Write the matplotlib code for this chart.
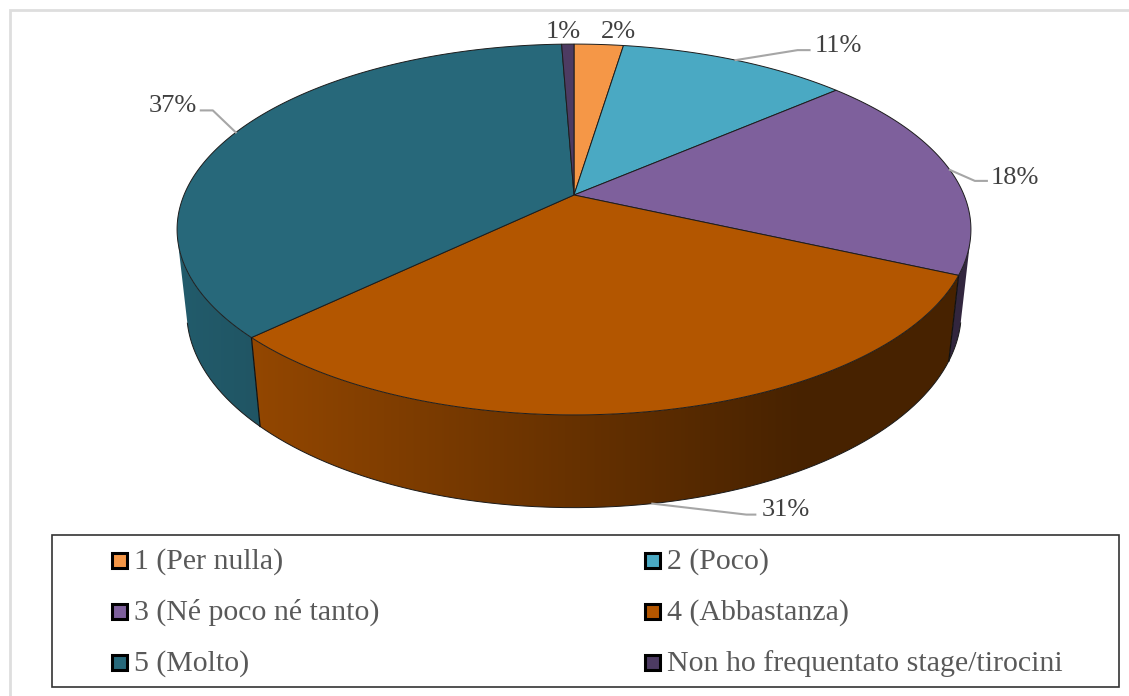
import numpy as np
import matplotlib
matplotlib.use("Agg")
import matplotlib.pyplot as plt
from matplotlib.patches import Polygon, Rectangle, PathPatch
from matplotlib.path import Path
from matplotlib.colors import to_rgb

categories = ["1 (Per nulla)", "2 (Poco)", "3 (Né poco né tanto)",
              "4 (Abbastanza)", "5 (Molto)", "Non ho frequentato stage/tirocini"]
shares = [2.4, 11.2, 18.2, 31.0, 36.6, 0.6]
colors = ["#F59747", "#4AA9C3", "#7E609C", "#B35600", "#27687A", "#4D3B62"]

# Perspective model of the disc, in pixel units of the canvas
CX, CY = 574.0, 195.0
SCALE_X, SCALE_Y = 390.0, 179.0
PERSP = 0.186
DEPTH_Y, DEPTH_W = 83.0, 0.024
TEXT_FONT = ["Liberation Serif", "DejaVu Serif"]


def top_rim(theta):
    u, v = np.sin(theta), np.cos(theta)
    w = 1 + PERSP * v
    return CX + SCALE_X * u / w, CY - SCALE_Y * v / w


def bottom_rim(theta):
    u, v = np.sin(theta), np.cos(theta)
    w = 1 + PERSP * v + DEPTH_W
    return CX + SCALE_X * u / w, CY - (SCALE_Y * v - DEPTH_Y) / w


def wall_shade(x):
    return np.interp(x, [177, 800], [0.88, 0.40])


def quad_area(q):
    x, y = q[:, 0], q[:, 1]
    return 0.5 * np.sum(x * np.roll(y, -1) - np.roll(x, -1) * y)


fig = plt.figure(figsize=(11.29, 6.96), dpi=100, facecolor="white")
ax = fig.add_axes([0, 0, 1, 1])
ax.set_xlim(0, 1129)
ax.set_ylim(696, 0)
ax.axis("off")
ax.set_autoscale_on(False)

# Outer chart frame
ax.plot([10, 10, 1129], [696, 10, 10], color="#dedede", lw=2, solid_joinstyle="miter")

edges = np.cumsum([0] + shares) / 100 * 2 * np.pi
grad_x = np.arange(170, 980)

# Side wall: a horizontal gradient clipped to the camera-facing part of each slice
for start, end, col in zip(edges[:-1], edges[1:], colors):
    t = np.linspace(start, end, max(int((end - start) * 160), 2) + 1)
    tx, ty = top_rim(t)
    bx, by = bottom_rim(t)
    verts, rim_x, rim_y = [], [], []
    for i in range(len(t) - 1):
        q = np.array([(tx[i], ty[i]), (tx[i + 1], ty[i + 1]), (bx[i + 1], by[i + 1]), (bx[i], by[i])])
        if quad_area(q) < 0:
            verts.append(Path(np.vstack([q, q[0]]), closed=True))
            rim_x += [bx[i], bx[i + 1]]
            rim_y += [by[i], by[i + 1]]
    if not verts:
        continue
    clip = PathPatch(Path.make_compound_path(*verts), transform=ax.transData)
    row = np.outer(wall_shade(grad_x), np.array(to_rgb(col)))[None, :, :]
    ax.imshow(row, extent=[grad_x[0], grad_x[-1], 520, 100], aspect="auto",
              interpolation="bilinear", clip_path=clip, zorder=2)
    ax.plot(rim_x, rim_y, color="#1a1a1a", lw=0.7, zorder=3)

# Seams between wall segments
for e in edges[1:-1]:
    if np.cos(e) < 0:
        tx, ty = top_rim(e)
        bx, by = bottom_rim(e)
        ax.plot([tx, bx], [ty, by], color="#111111", lw=0.9, zorder=3)

# Top face of the disc
for start, end, col in zip(edges[:-1], edges[1:], colors):
    t = np.linspace(start, end, max(int((end - start) * 160), 4))
    x, y = top_rim(t)
    pts = np.column_stack([np.r_[CX, x], np.r_[CY, y]])
    ax.add_patch(Polygon(pts, closed=True, facecolor=col, edgecolor="#1c1c1c", lw=0.7, zorder=4))

# Percentage labels; the elbow offsets and text positions follow each slice
label_text = [f"{s:.0f}%" for s in shares]
leader = {1: (62, -10, 74), 2: (25, 11, 37), 3: (94, 11, 103), 4: (-23, -22, -35)}
label_pos = [(618, 31.5), (838, 46.5), (1015, 177.5), (786, 509.5), (173, 105.5), (563, 31.5)]
for i, (txt, pos) in enumerate(zip(label_text, label_pos)):
    mid = (edges[i] + edges[i + 1]) / 2
    if i in leader:
        sx, sy = bottom_rim(mid) if np.cos(mid) < -0.5 else top_rim(mid)
        dx, dy, hx = leader[i]
        ax.plot([sx, sx + dx, sx + hx], [sy, sy + dy, sy + dy], color="#a6a6a6", lw=1.5, zorder=5)
    ax.text(pos[0], pos[1], txt, ha="center", va="center", fontsize=19,
            family=TEXT_FONT, color="#404040", zorder=6)

# Legend
ax.add_patch(Rectangle((52, 534.5), 1066.5, 152.5, facecolor="white", edgecolor="#333333", lw=1.2, zorder=1))
legend_x = [111, 644]
legend_y = [569, 620, 671]
for i, (name, col) in enumerate(zip(categories, colors)):
    x0 = legend_x[i % 2]
    y0 = legend_y[i // 2]
    ax.add_patch(Rectangle((x0 + 1, y0 - 16), 15, 15, facecolor=col, edgecolor="black", lw=2.2, zorder=5))
    ax.text(x0 + 23, y0, name, ha="left", va="baseline", fontsize=21.5,
            family=TEXT_FONT, color="#595959", zorder=6)

fig.savefig("out.png", dpi=100)
